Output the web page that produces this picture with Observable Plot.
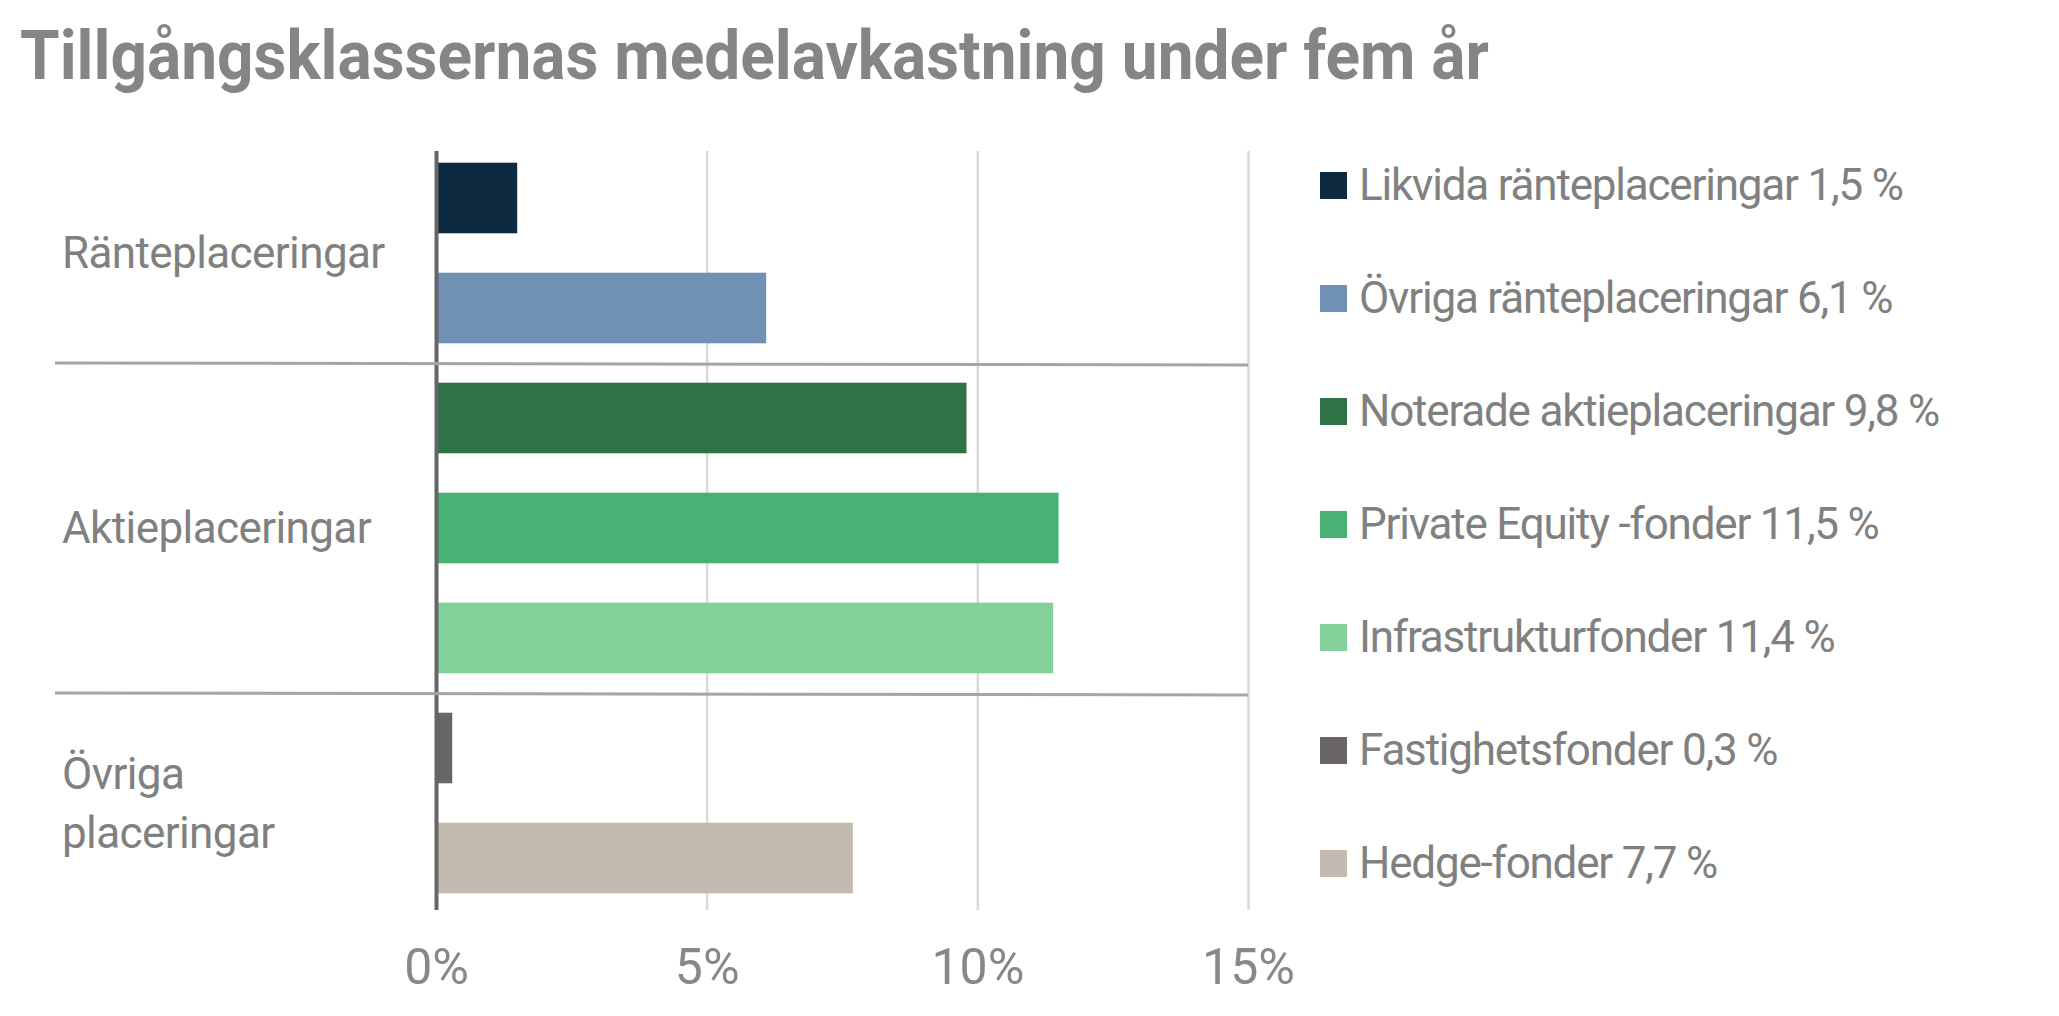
<!DOCTYPE html>
<html><head><meta charset="utf-8">
<script src="https://cdn.jsdelivr.net/npm/d3@7"></script>
<script src="https://cdn.jsdelivr.net/npm/@observablehq/plot@0.6"></script>
<style>
html,body{margin:0;padding:0;background:#fff;}
#wrap{position:relative;width:2059px;height:1016px;overflow:hidden;font-family:Roboto,"DejaVu Sans",sans-serif;}
#title{position:absolute;left:20px;top:22px;font-weight:700;font-size:68px;line-height:1;color:#858585;white-space:nowrap;transform-origin:left center;}
#chart{position:absolute;left:0;top:0;}
#legend{position:absolute;left:1320px;top:0;}
.item{position:absolute;left:0;height:50px;display:flex;align-items:center;white-space:nowrap;font-size:44px;color:#808080;letter-spacing:-1.2px;}
.sw{width:27px;height:27px;margin-right:12px;flex:none;}
</style>
</head><body>
<div id="wrap">
  <div id="title">Tillgångsklassernas medelavkastning under fem år</div>
  <div id="chart"></div>
  <div id="legend"></div>
</div>
<script>
const categories = ["Likvida ränteplaceringar","Övriga ränteplaceringar","Noterade aktieplaceringar","Private Equity -fonder","Infrastrukturfonder","Fastighetsfonder","Hedge-fonder"];
const values = [1.5, 6.1, 9.8, 11.5, 11.4, 0.3, 7.7];
const colors = ["#0d2a40","#7091b4","#2f7247","#4ab174","#83d09b","#6a6665","#c3bbb0"];
const groupNames = [["Ränteplaceringar"],["Aktieplaceringar"],["Övriga","placeringar"]];
const groupOf = [0,0,1,1,1,2,2];
const xTicks = [0,5,10,15];

const rows = categories.map((name,i)=>({name, value: values[i], group: groupOf[i]}));

const plot = Plot.plot({
  width: 2059, height: 1016,
  marginTop: 141, marginBottom: 102, marginLeft: 436, marginRight: 811,
  style: {fontFamily: "Roboto, sans-serif", background: "transparent", overflow: "visible"},
  x: {domain: [0,15], label: null},
  y: {domain: categories, padding: 0, axis: null},
  color: {domain: categories, range: colors},
  marks: [
    Plot.ruleX(xTicks.filter(t=>t>0), {stroke:"#d9d9d9", strokeWidth:2.5, insetTop:10, insetBottom:4}),
    Plot.barX(rows, {x:"value", y:"name", fill:"name", insetTop:19.7, insetBottom:19.7}),
    Plot.ruleX([0], {stroke:"#666", strokeWidth:4, insetTop:10, insetBottom:4}),
    Plot.axisX({ticks: xTicks, tickFormat: d => d + "%", tickSize:0, tickPadding:34, fontSize:50, fill:"#888", label:null})
  ]
});
document.getElementById("chart").appendChild(plot);

// separators and group labels from the scales
const ys = plot.scale("y"), xs = plot.scale("x");
const bw = ys.bandwidth;
const svg = d3.select(plot);
const g = svg.append("g");
for (let i = 1; i < categories.length; i++) {
  if (groupOf[i] !== groupOf[i-1]) {
    const y = ys.apply(categories[i]);
    g.append("line").attr("x1",55).attr("x2",xs.apply(xTicks[xTicks.length-1]))
      .attr("y1",y).attr("y2",y+2).attr("stroke","#a6a6a6").attr("stroke-width",3);
  }
}
groupNames.forEach((lines, gi) => {
  const members = categories.filter((c,i)=>groupOf[i]===gi);
  const y0 = ys.apply(members[0]), y1 = ys.apply(members[members.length-1]) + bw;
  const cy = (y0+y1)/2;
  const lh = 59;
  lines.forEach((t, li) => {
    svg.append("text").attr("x",62).attr("y", cy + (li - (lines.length-1)/2)*lh)
      .attr("dy","0.35em").attr("fill","#808080").attr("font-size",44)
      .attr("text-anchor","start").attr("letter-spacing","-0.6")
      .attr("font-family","Roboto, sans-serif").text(t);
  });
});

// legend
const legend = document.getElementById("legend");
const legendTop = 185, legendStep = 113;
categories.forEach((c,i)=>{
  const it = document.createElement("div");
  it.className = "item";
  it.style.top = (legendTop + i*legendStep - 25) + "px";
  const sw = document.createElement("div");
  sw.className = "sw"; sw.style.background = colors[i];
  const tx = document.createElement("span");
  tx.textContent = c + " " + String(values[i]).replace(".", ",") + " %";
  it.appendChild(sw); it.appendChild(tx);
  legend.appendChild(it);
});

// fit title width
const title = document.getElementById("title");
const tw = title.getBoundingClientRect().width;
title.style.transform = `scaleX(${1469/tw})`;
</script>
</body></html>
